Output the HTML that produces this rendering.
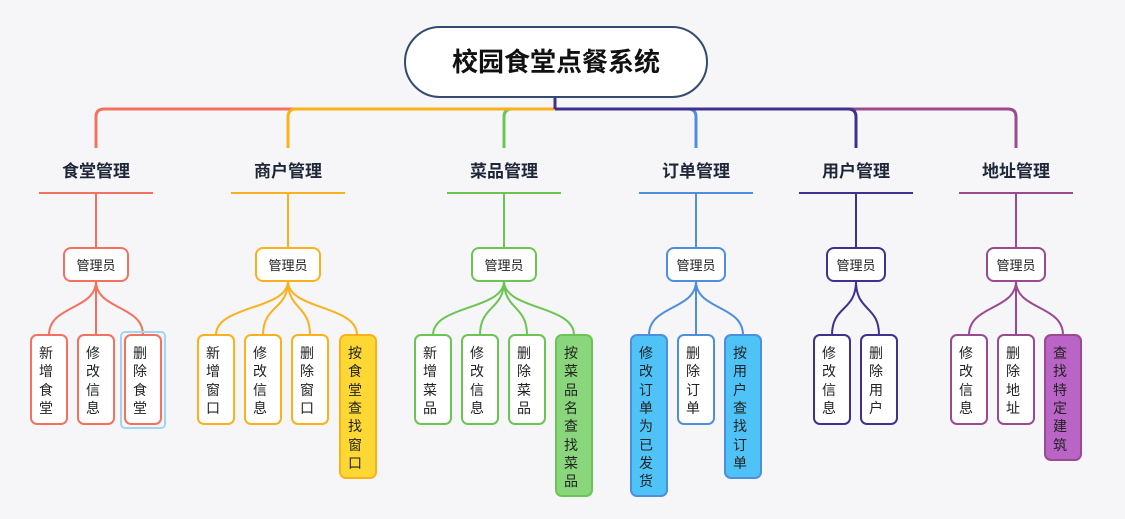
<!DOCTYPE html>
<html><head><meta charset="utf-8"><style>
html,body{margin:0;padding:0;background:#f6f6f9;}
svg{display:block;font-family:"Liberation Sans","Noto Sans CJK SC",sans-serif;}
.lab{font-size:17px;font-weight:bold;fill:#1d2737;text-anchor:middle}
.mg{font-size:13px;fill:#222;text-anchor:middle}
.lf{font-size:14px;fill:#222;text-anchor:middle}
</style></head><body>
<svg width="1125" height="519" viewBox="0 0 1125 519" xmlns="http://www.w3.org/2000/svg">
<rect width="1125" height="519" fill="#f6f6f9"/>
<!-- bus -->
<g fill="none" stroke-width="3">
<path d="M555,109 H104 Q96,109 96,117 V148" stroke="#f4715f"/>
<path d="M555,109 H512 Q504,109 504,117 V148" stroke="#6cc553"/>
<path d="M555,109 H296 Q288,109 288,117 V148" stroke="#fbb11b"/>
<path d="M555,109 H1008 Q1016,109 1016,117 V148" stroke="#9a4a8f"/>
<path d="M555,109 H688 Q696,109 696,117 V148" stroke="#4d8fdc"/>
<path d="M555,109 H848 Q856,109 856,117 V148" stroke="#40318f"/>
<path d="M555,97 V109" stroke="#40318f"/>
</g>
<rect x="405" y="27" width="302" height="70" rx="35" fill="#fff" stroke="#344a70" stroke-width="2"/>
<text x="556" y="71" font-size="26" font-weight="bold" text-anchor="middle" fill="#111">校园食堂点餐系统</text>

<!-- branch 1 -->
<g stroke="#f4715f" fill="none" stroke-width="2">
<path d="M39,193 H153 M96,193 V248"/>
<rect x="64" y="248" width="64" height="33" rx="7" fill="#fff"/>
<path d="M96,281 C96,310 49,305 49,335 M96,281 V335 M96,281 C96,310 143,305 143,335"/>
<rect x="31" y="335" width="36" height="89" rx="6" fill="#fff"/>
<rect x="78" y="335" width="36" height="89" rx="6" fill="#fff"/>
<rect x="121" y="332" width="44" height="96" rx="4" stroke="#9fd6f5"/>
<rect x="125" y="335" width="36" height="89" rx="6" fill="#fff"/>
</g>
<text class="lab" x="96" y="177">食堂管理</text>
<text class="mg" x="96" y="270">管理员</text>
<g class="lf">
<text x="46" y="358">新</text><text x="46" y="376">增</text><text x="46" y="395">食</text><text x="46" y="413">堂</text>
<text x="93" y="358">修</text><text x="93" y="376">改</text><text x="93" y="395">信</text><text x="93" y="413">息</text>
<text x="140" y="358">删</text><text x="140" y="376">除</text><text x="140" y="395">食</text><text x="140" y="413">堂</text>
</g>

<!-- branch 2 -->
<g stroke="#fbb11b" fill="none" stroke-width="2">
<path d="M231,193 H345 M288,193 V248"/>
<rect x="256" y="248" width="64" height="33" rx="7" fill="#fff"/>
<path d="M288,281 C288,310 216,305 216,335 M288,281 C288,310 263,305 263,335 M288,281 C288,310 310,305 310,335 M288,281 C288,310 357,305 357,335"/>
<rect x="198" y="335" width="36" height="89" rx="6" fill="#fff"/>
<rect x="245" y="335" width="36" height="89" rx="6" fill="#fff"/>
<rect x="292" y="335" width="36" height="89" rx="6" fill="#fff"/>
<rect x="340" y="335" width="36" height="143" rx="6" fill="#fdd835"/>
</g>
<text class="lab" x="288" y="177">商户管理</text>
<text class="mg" x="288" y="270">管理员</text>
<g class="lf">
<text x="213" y="358">新</text><text x="213" y="376">增</text><text x="213" y="395">窗</text><text x="213" y="413">口</text>
<text x="260" y="358">修</text><text x="260" y="376">改</text><text x="260" y="395">信</text><text x="260" y="413">息</text>
<text x="307" y="358">删</text><text x="307" y="376">除</text><text x="307" y="395">窗</text><text x="307" y="413">口</text>
<text x="355" y="358">按</text><text x="355" y="376">食</text><text x="355" y="395">堂</text><text x="355" y="413">查</text><text x="355" y="431">找</text><text x="355" y="450">窗</text><text x="355" y="468">口</text>
</g>

<!-- branch 3 -->
<g stroke="#6cc553" fill="none" stroke-width="2">
<path d="M447,193 H561 M504,193 V248"/>
<rect x="472" y="248" width="64" height="33" rx="7" fill="#fff"/>
<path d="M504,281 C504,310 433,305 433,335 M504,281 C504,310 480,305 480,335 M504,281 C504,310 527,305 527,335 M504,281 C504,310 574,305 574,335"/>
<rect x="415" y="335" width="36" height="89" rx="6" fill="#fff"/>
<rect x="462" y="335" width="36" height="89" rx="6" fill="#fff"/>
<rect x="509" y="335" width="36" height="89" rx="6" fill="#fff"/>
<rect x="556" y="335" width="36" height="161" rx="6" fill="#8ad67c"/>
</g>
<text class="lab" x="504" y="177">菜品管理</text>
<text class="mg" x="504" y="270">管理员</text>
<g class="lf">
<text x="430" y="358">新</text><text x="430" y="376">增</text><text x="430" y="395">菜</text><text x="430" y="413">品</text>
<text x="477" y="358">修</text><text x="477" y="376">改</text><text x="477" y="395">信</text><text x="477" y="413">息</text>
<text x="524" y="358">删</text><text x="524" y="376">除</text><text x="524" y="395">菜</text><text x="524" y="413">品</text>
<text x="571" y="358">按</text><text x="571" y="376">菜</text><text x="571" y="395">品</text><text x="571" y="413">名</text><text x="571" y="431">查</text><text x="571" y="450">找</text><text x="571" y="468">菜</text><text x="571" y="486">品</text>
</g>

<!-- branch 4 -->
<g stroke="#4d8fdc" fill="none" stroke-width="2">
<path d="M639,193 H753 M696,193 V248"/>
<rect x="667" y="248" width="58" height="33" rx="7" fill="#fff"/>
<path d="M696,281 C696,310 649,305 649,335 M696,281 V335 M696,281 C696,310 743,305 743,335"/>
<rect x="631" y="335" width="36" height="161" rx="6" fill="#4fc3f7"/>
<rect x="678" y="335" width="36" height="89" rx="6" fill="#fff"/>
<rect x="725" y="335" width="36" height="143" rx="6" fill="#4fc3f7"/>
</g>
<text class="lab" x="696" y="177">订单管理</text>
<text class="mg" x="696" y="270">管理员</text>
<g class="lf">
<text x="646" y="358">修</text><text x="646" y="376">改</text><text x="646" y="395">订</text><text x="646" y="413">单</text><text x="646" y="431">为</text><text x="646" y="450">已</text><text x="646" y="468">发</text><text x="646" y="486">货</text>
<text x="693" y="358">删</text><text x="693" y="376">除</text><text x="693" y="395">订</text><text x="693" y="413">单</text>
<text x="740" y="358">按</text><text x="740" y="376">用</text><text x="740" y="395">户</text><text x="740" y="413">查</text><text x="740" y="431">找</text><text x="740" y="450">订</text><text x="740" y="468">单</text>
</g>

<!-- branch 5 -->
<g stroke="#40318f" fill="none" stroke-width="2">
<path d="M799,193 H913 M856,193 V248"/>
<rect x="827" y="248" width="58" height="33" rx="7" fill="#fff"/>
<path d="M856,281 C856,312 832,305 832,335 M856,281 C856,312 879,305 879,335"/>
<rect x="814" y="335" width="36" height="89" rx="6" fill="#fff"/>
<rect x="861" y="335" width="36" height="89" rx="6" fill="#fff"/>
</g>
<text class="lab" x="856" y="177">用户管理</text>
<text class="mg" x="856" y="270">管理员</text>
<g class="lf">
<text x="829" y="358">修</text><text x="829" y="376">改</text><text x="829" y="395">信</text><text x="829" y="413">息</text>
<text x="876" y="358">删</text><text x="876" y="376">除</text><text x="876" y="395">用</text><text x="876" y="413">户</text>
</g>

<!-- branch 6 -->
<g stroke="#9a4a8f" fill="none" stroke-width="2">
<path d="M959,193 H1073 M1016,193 V248"/>
<rect x="987" y="248" width="58" height="33" rx="7" fill="#fff"/>
<path d="M1016,281 C1016,310 969,305 969,335 M1016,281 V335 M1016,281 C1016,310 1063,305 1063,335"/>
<rect x="951" y="335" width="36" height="89" rx="6" fill="#fff"/>
<rect x="998" y="335" width="36" height="89" rx="6" fill="#fff"/>
<rect x="1045" y="335" width="36" height="125" rx="6" fill="#b964c6"/>
</g>
<text class="lab" x="1016" y="177">地址管理</text>
<text class="mg" x="1016" y="270">管理员</text>
<g class="lf">
<text x="966" y="358">修</text><text x="966" y="376">改</text><text x="966" y="395">信</text><text x="966" y="413">息</text>
<text x="1013" y="358">删</text><text x="1013" y="376">除</text><text x="1013" y="395">地</text><text x="1013" y="413">址</text>
<text x="1060" y="358">查</text><text x="1060" y="376">找</text><text x="1060" y="395">特</text><text x="1060" y="413">定</text><text x="1060" y="431">建</text><text x="1060" y="450">筑</text>
</g>
</svg>
</body></html>
